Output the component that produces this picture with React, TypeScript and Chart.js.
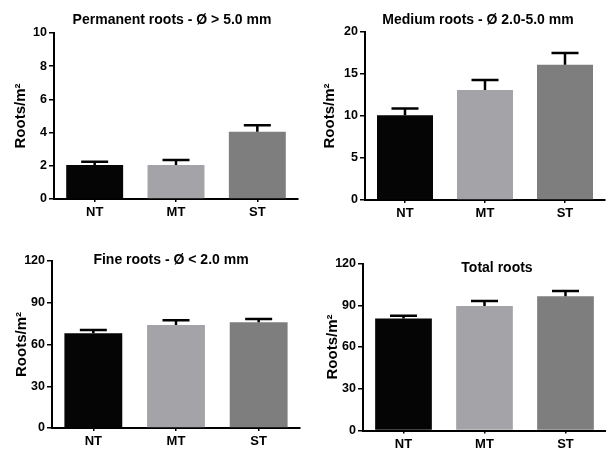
import React, { useEffect, useRef } from "react";
import { Chart, registerables } from "chart.js";

Chart.register(...registerables);

// ---------- data ----------
const categories = ["NT", "MT", "ST"];
const barColors = ["#050505", "#a4a4a8", "#7e7e7e"];
const yAxisTitle = "Roots/m²";

const permanentTitle = "Permanent roots - Ø > 5.0 mm";
const permanentMeans = [2.05, 2.05, 4.05];
const permanentErrors = [0.2, 0.3, 0.4];
const permanentTicks = [0, 2, 4, 6, 8, 10];

const mediumTitle = "Medium roots - Ø 2.0-5.0 mm";
const mediumMeans = [10.1, 13.1, 16.1];
const mediumErrors = [0.8, 1.2, 1.4];
const mediumTicks = [0, 5, 10, 15, 20];

const fineTitle = "Fine roots - Ø < 2.0 mm";
const fineMeans = [68, 74, 76];
const fineErrors = [2.5, 3.5, 2.3];
const fineTicks = [0, 30, 60, 90, 120];

const totalTitle = "Total roots";
const totalMeans = [80.5, 89.5, 96.5];
const totalErrors = [2, 3.5, 3.8];
const totalTicks = [0, 30, 60, 90, 120];

// ---------- layout / style ----------
const FONT = '"Liberation Sans", Arial, Helvetica, sans-serif';
const PANEL_W = 303;
const PANEL_H = 225;

type Layout = {
  left: number;
  top: number;
  padLeft: number;
  yWidth: number;
  padTop: number;
  padRight: number;
  xHeight: number;
  titleX: number;
  titleY: number;
};

type PanelProps = {
  title: string;
  means: number[];
  errors: number[];
  ticks: number[];
  layout: Layout;
};

function Panel({ title, means, errors, ticks, layout }: PanelProps) {
  const ref = useRef<HTMLCanvasElement | null>(null);

  useEffect(() => {
    if (!ref.current) return;
    const step = ticks[1] - ticks[0];
    const errorBars = {
      id: "errorBars",
      afterDatasetsDraw(chart: any) {
        const ctx = chart.ctx;
        const meta = chart.getDatasetMeta(0);
        const y = chart.scales.y;
        ctx.save();
        ctx.strokeStyle = "#000";
        ctx.lineWidth = 2.5;
        meta.data.forEach((bar: any, i: number) => {
          const top = y.getPixelForValue(means[i] + errors[i]);
          ctx.beginPath();
          ctx.moveTo(bar.x, bar.y);
          ctx.lineTo(bar.x, top);
          ctx.moveTo(bar.x - 13.5, top);
          ctx.lineTo(bar.x + 13.5, top);
          ctx.stroke();
        });
        ctx.restore();
      },
    };
    const titlePlugin = {
      id: "panelTitle",
      afterDraw(chart: any) {
        const ctx = chart.ctx;
        ctx.save();
        ctx.font = `bold 14px ${FONT}`;
        ctx.fillStyle = "#000";
        ctx.textAlign = "center";
        ctx.textBaseline = "middle";
        ctx.fillText(title, layout.titleX, layout.titleY);
        ctx.restore();
      },
    };

    const chart = new Chart(ref.current, {
      type: "bar",
      data: {
        labels: categories,
        datasets: [
          {
            data: means,
            backgroundColor: barColors,
            borderWidth: 0,
            barPercentage: 1,
            categoryPercentage: 0.7,
          },
        ],
      },
      options: {
        responsive: false,
        animation: false,
        devicePixelRatio: 1,
        layout: {
          padding: {
            left: layout.padLeft,
            top: layout.padTop,
            right: layout.padRight,
            bottom: 0,
          },
        },
        plugins: {
          legend: { display: false },
          tooltip: { enabled: false },
          title: { display: false },
        },
        scales: {
          x: {
            afterFit(scale: any) {
              scale.height = layout.xHeight;
            },
            border: { display: true, color: "#000", width: 2 },
            grid: {
              display: true,
              drawOnChartArea: false,
              drawTicks: true,
              offset: false,
              tickLength: 3,
              color: "#000",
              lineWidth: 1.5,
            },
            ticks: {
              color: "#000",
              padding: 3,
              font: { family: FONT, size: 13, weight: "bold" },
            },
          },
          y: {
            min: ticks[0],
            max: ticks[ticks.length - 1],
            afterFit(scale: any) {
              scale.width = layout.yWidth;
            },
            afterBuildTicks(scale: any) {
              scale.ticks = ticks.map((v) => ({ value: v }));
            },
            border: { display: true, color: "#000", width: 2 },
            grid: {
              display: true,
              drawOnChartArea: false,
              drawTicks: true,
              tickLength: 5,
              color: "#000",
              lineWidth: 1.5,
            },
            ticks: {
              stepSize: step,
              color: "#000",
              padding: 2,
              font: { family: FONT, size: 12.5, weight: "bold" },
            },
            title: {
              display: true,
              text: yAxisTitle,
              color: "#000",
              padding: 0,
              font: { family: FONT, size: 15, weight: "bold" },
            },
          },
        },
      } as any,
      plugins: [errorBars, titlePlugin],
    });
    return () => chart.destroy();
  }, [title, means, errors, ticks, layout]);

  return (
    <div
      style={{
        position: "absolute",
        left: layout.left,
        top: layout.top,
        width: PANEL_W,
        height: PANEL_H,
      }}
    >
      <canvas
        ref={ref}
        width={PANEL_W}
        height={PANEL_H}
        style={{ width: PANEL_W, height: PANEL_H, display: "block" }}
      />
    </div>
  );
}

const layout1: Layout = { left: 0, top: 0, padLeft: 12, yWidth: 42, padTop: 33, padRight: 5, xHeight: 26, titleX: 172, titleY: 20.5 };
const layout2: Layout = { left: 303, top: 0, padLeft: 18, yWidth: 44, padTop: 32, padRight: 1, xHeight: 25, titleX: 175, titleY: 20.5 };
const layout3: Layout = { left: 0, top: 225, padLeft: 13, yWidth: 39, padTop: 36, padRight: 3, xHeight: 22, titleX: 171, titleY: 35 };
const layout4: Layout = { left: 303, top: 225, padLeft: 21, yWidth: 39, padTop: 38.5, padRight: 0, xHeight: 19.5, titleX: 194, titleY: 43 };

export default function App() {
  return (
    <div
      style={{
        position: "absolute",
        left: 0,
        top: 0,
        width: 606,
        height: 450,
        background: "#fff",
        overflow: "hidden",
      }}
    >
      <Panel title={permanentTitle} means={permanentMeans} errors={permanentErrors} ticks={permanentTicks} layout={layout1} />
      <Panel title={mediumTitle} means={mediumMeans} errors={mediumErrors} ticks={mediumTicks} layout={layout2} />
      <Panel title={fineTitle} means={fineMeans} errors={fineErrors} ticks={fineTicks} layout={layout3} />
      <Panel title={totalTitle} means={totalMeans} errors={totalErrors} ticks={totalTicks} layout={layout4} />
    </div>
  );
}
